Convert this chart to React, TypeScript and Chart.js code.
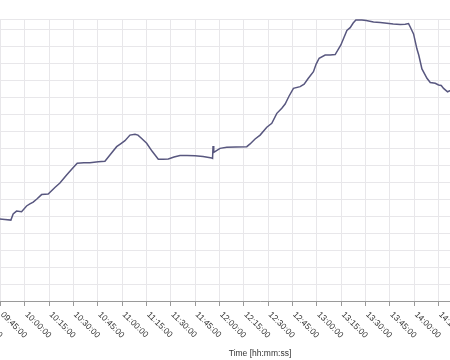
import React, { useEffect, useRef } from 'react';
import { Chart, registerables } from 'chart.js';

Chart.register(...registerables);

// ---- data ----
const times: string[] = [
  '09:38:31', '09:44:41', '09:47:47', '09:51:29', '09:52:54', '09:54:59', '09:58:05', '10:01:10',
  '10:03:12', '10:05:14', '10:07:31', '10:10:25', '10:14:29', '10:18:37', '10:21:42', '10:25:50',
  '10:29:06', '10:32:22', '10:36:30', '10:40:12', '10:45:19', '10:49:27', '10:52:32', '10:56:40',
  '10:59:19', '11:01:47', '11:04:52', '11:07:58', '11:09:49', '11:12:05', '11:15:10', '11:18:26',
  '11:22:20', '11:25:14', '11:28:30', '11:32:01', '11:35:43', '11:40:02', '11:44:58', '11:49:54',
  '11:55:16', '11:55:46', '11:56:04', '11:56:30', '12:00:23', '12:04:31', '12:10:15', '12:16:51',
  '12:18:53', '12:21:58', '12:25:04', '12:29:11', '12:32:16', '12:35:22', '12:38:26', '12:40:29',
  '12:42:56', '12:45:36', '12:49:44', '12:52:12', '12:54:40', '12:57:56', '12:59:36', '13:01:27',
  '13:05:09', '13:08:14', '13:11:19', '13:14:50', '13:16:52', '13:18:32', '13:20:34', '13:22:25',
  '13:24:05', '13:27:47', '13:30:26', '13:34:56', '13:39:04', '13:43:12', '13:47:05', '13:51:25',
  '13:54:29', '13:56:32', '13:57:35', '13:59:37', '14:01:43', '14:02:49', '14:04:47', '14:07:53',
  '14:09:55', '14:13:00', '14:15:02', '14:16:41', '14:18:07', '14:20:35', '14:22:15', '14:25:57',
];

const values: number[] = [
  48.2, 48.2, 47.9, 47.6, 51.2, 52.9, 52.5, 55.9,
  57.1, 58.2, 60.0, 62.6, 62.9, 66.8, 69.4, 74.1,
  77.6, 81.0, 81.3, 81.4, 81.9, 82.2, 85.9, 90.8,
  92.6, 94.3, 97.6, 98.1, 97.6, 95.6, 92.8, 88.2,
  83.4, 83.4, 83.6, 84.7, 85.6, 85.6, 85.5, 85.0,
  84.1, 83.9, 91.2, 87.4, 89.8, 90.4, 90.6, 90.8,
  92.4, 95.3, 97.6, 102.2, 104.5, 110.4, 113.4, 115.9,
  120.6, 125.1, 126.1, 127.6, 130.9, 134.9, 139.4, 142.8,
  144.7, 144.7, 145.0, 150.6, 155.3, 159.1, 160.8, 163.5,
  165.3, 165.3, 165.0, 164.1, 163.8, 163.4, 162.9, 162.6,
  162.8, 163.2, 161.2, 157.1, 148.2, 144.7, 136.5, 131.0,
  128.5, 128.1, 127.1, 126.8, 125.1, 123.1, 123.8, 122.4,
];

const xTickLabels: string[] = [
  '09:30:00', '09:45:00', '10:00:00', '10:15:00', '10:30:00', '10:45:00', '11:00:00', '11:15:00',
  '11:30:00', '11:45:00', '12:00:00', '12:15:00', '12:30:00', '12:45:00', '13:00:00', '13:15:00',
  '13:30:00', '13:45:00', '14:00:00', '14:15:00', '14:30:00', '14:45:00', '15:00:00', '15:15:00',
];
const xMinLabel = '09:30:00';
const xMaxLabel = '15:20:00';
const yMin = 0;
const yMax = 165.9;
const yStep = 10;
const xTitle = 'Time [hh:mm:ss]';

function toMin(s: string): number {
  const [h, m, sec] = s.split(':').map(Number);
  return h * 60 + m + sec / 60;
}

const labelPlugin = {
  id: 'rotatedTimeLabels',
  afterDraw(chart: any) {
    const { ctx, chartArea } = chart;
    const x = chart.scales.x;
    ctx.save();
    ctx.fillStyle = '#333333';
    ctx.font = '8.5px "Liberation Sans", Arial, sans-serif';
    ctx.textAlign = 'left';
    ctx.textBaseline = 'alphabetic';
    xTickLabels.forEach((lbl) => {
      const px = x.getPixelForValue(toMin(lbl));
      ctx.save();
      ctx.translate(px, chartArea.bottom + 14);
      ctx.rotate(Math.PI / 4);
      ctx.fillText(lbl, 0, 0);
      ctx.restore();
    });
    ctx.textAlign = 'center';
    ctx.textBaseline = 'middle';
    ctx.fillText(xTitle, (chartArea.left + chartArea.right) / 2, chart.height - 6);
    ctx.restore();
  },
};

export default function App() {
  const ref = useRef<HTMLCanvasElement | null>(null);

  useEffect(() => {
    if (!ref.current) return;
    const data = times.map((t, i) => ({ x: toMin(t), y: values[i] }));
    const chart = new Chart(ref.current, {
      type: 'line',
      data: {
        datasets: [
          {
            data,
            borderColor: '#58577f',
            borderWidth: 1.5,
            pointRadius: 0,
            tension: 0,
            fill: false,
          },
        ],
      },
      options: {
        animation: false,
        responsive: false,
        events: [],
        layout: { padding: { top: 19, left: 0, right: 10, bottom: 0 } },
        plugins: { legend: { display: false }, tooltip: { enabled: false } },
        scales: {
          x: {
            type: 'linear',
            min: toMin(xMinLabel),
            max: toMin(xMaxLabel),
            afterBuildTicks: (s: any) => {
              s.ticks = xTickLabels.map((l) => ({ value: toMin(l) }));
            },
            afterFit: (s: any) => {
              s.height = 59;
            },
            ticks: { display: false },
            grid: {
              color: '#e8e7ea',
              lineWidth: 1,
              drawTicks: true,
              tickLength: 5,
              tickColor: '#9a9a9a',
            },
            border: { display: true, color: '#9a9a9a', width: 1 },
          },
          y: {
            type: 'linear',
            min: yMin,
            max: yMax,
            afterBuildTicks: (s: any) => {
              const t = [];
              for (let v = yMin; v <= yMax; v += yStep) t.push({ value: v });
              t.push({ value: yMax });
              s.ticks = t;
            },
            afterFit: (s: any) => {
              s.width = 0;
            },
            ticks: { display: false },
            grid: { color: '#e8e7ea', lineWidth: 1, drawTicks: false },
            border: { display: false },
          },
        },
      },
      plugins: [labelPlugin],
    });
    return () => chart.destroy();
  }, []);

  return (
    <div
      style={{
        position: 'fixed',
        left: 0,
        top: 0,
        width: 450,
        height: 360,
        overflow: 'hidden',
        background: '#ffffff',
      }}
    >
      <canvas
        ref={ref}
        width={578}
        height={360}
        style={{ position: 'absolute', left: -24, top: 0, width: 578, height: 360 }}
      />
    </div>
  );
}
